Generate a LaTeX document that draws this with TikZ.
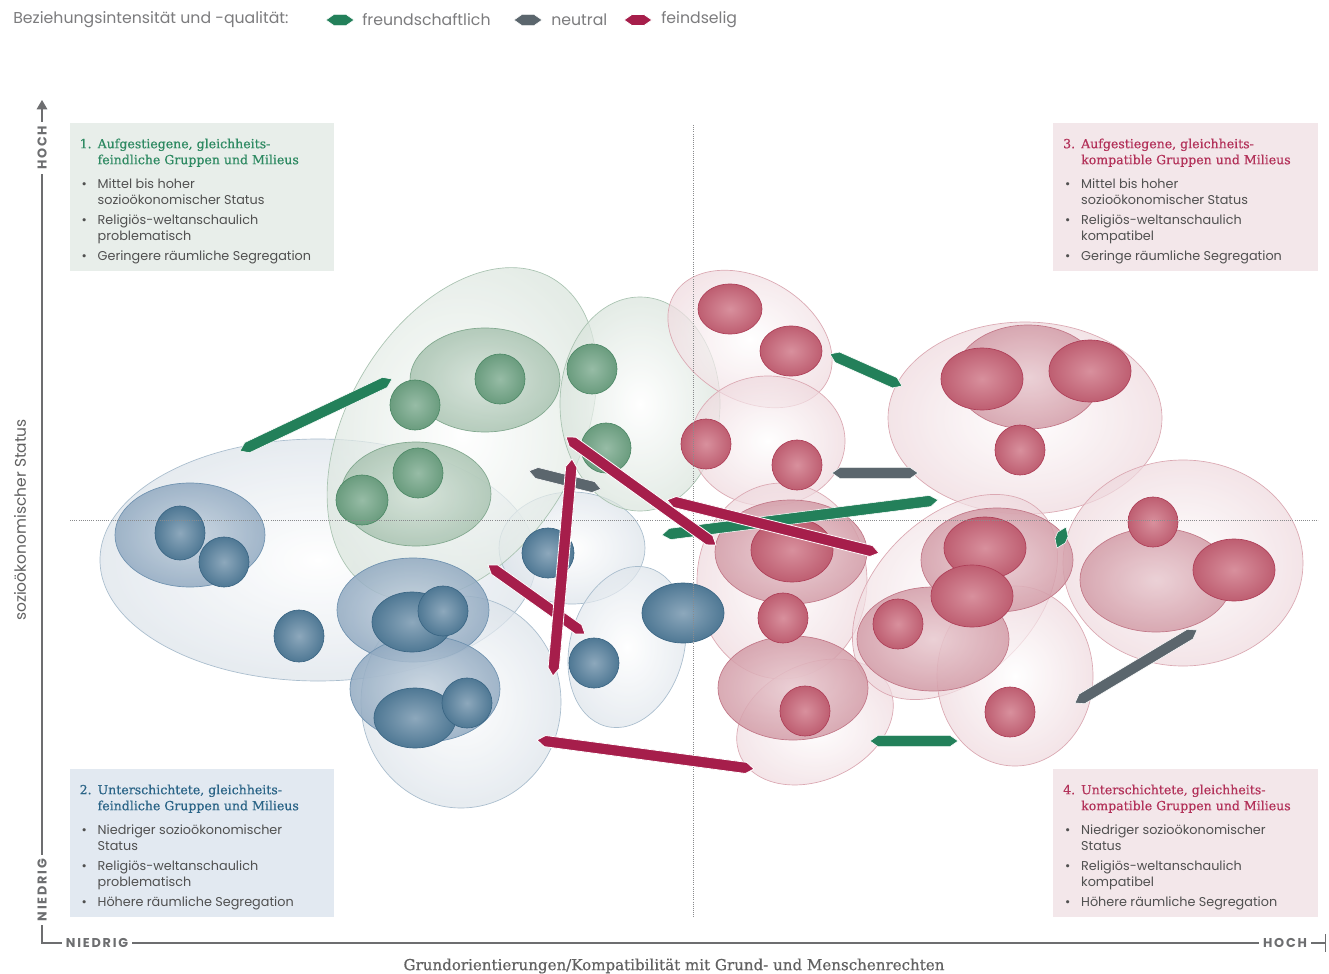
\documentclass[tikz,border=0pt]{standalone}
\usepackage{fontspec}
\setmainfont{Poppins}
\newfontfamily\slabfont[FakeBold=0.6]{DejaVu Serif}
\newfontfamily\capsfont[LetterSpace=14]{Poppins}
\usetikzlibrary{calc,arrows.meta}

\definecolor{friendly}{HTML}{23805A}
\definecolor{neutralgrey}{HTML}{5B666D}
\definecolor{hostile}{HTML}{A61E4B}
\definecolor{axisgrey}{HTML}{6D6E70}
\definecolor{textgrey}{HTML}{505050}
\definecolor{boxgreen}{HTML}{E8EEEA}
\definecolor{boxblue}{HTML}{E2E9F1}
\definecolor{boxred}{HTML}{F3E7EA}
\definecolor{titlegreen}{HTML}{2E8A62}
\definecolor{titleblue}{HTML}{2A6487}
\definecolor{titlered}{HTML}{B3325A}
% milieu colours: pale container, middle ring, dark ball
\definecolor{greenpale}{HTML}{D9E4DC}
\definecolor{greenpaleline}{HTML}{A9C3B1}
\definecolor{greenmid}{HTML}{AAC4B2}
\definecolor{greenmidin}{HTML}{D3E1D7}
\definecolor{greenmidline}{HTML}{80A78D}
\definecolor{greenball}{HTML}{6A9C7E}
\definecolor{greenballin}{HTML}{97BCA6}
\definecolor{greenballline}{HTML}{4E8967}
\definecolor{bluepale}{HTML}{DCE3EA}
\definecolor{bluepaleline}{HTML}{A9BDCD}
\definecolor{bluemid}{HTML}{92AAC1}
\definecolor{bluemidin}{HTML}{C6D3DF}
\definecolor{bluemidline}{HTML}{6E91AF}
\definecolor{blueball}{HTML}{4F7894}
\definecolor{blueballin}{HTML}{8DA8BC}
\definecolor{blueballline}{HTML}{3B6684}
\definecolor{redpale}{HTML}{EFD9DE}
\definecolor{redpaleline}{HTML}{DBA8B2}
\definecolor{redmid}{HTML}{D39DA8}
\definecolor{redmidin}{HTML}{E9CBD1}
\definecolor{redmidline}{HTML}{C27787}
\definecolor{redball}{HTML}{BE5E71}
\definecolor{redballin}{HTML}{D8909D}
\definecolor{redballline}{HTML}{AE3F58}

\tikzset{
  friendly bar/.style={fill=friendly, draw=white, line width=.4pt},
  neutral bar/.style={fill=neutralgrey, draw=white, line width=.4pt},
  hostile bar/.style={fill=hostile, draw=white, line width=.6pt},
  green pale/.style={draw=greenpaleline, line width=.5pt, inner color=white, outer color=greenpale, fill opacity=.7},
  green mid/.style={draw=greenmidline, line width=.5pt, inner color=greenmidin, outer color=greenmid, fill opacity=.85},
  green ball/.style={draw=greenballline, line width=.5pt, inner color=greenballin, outer color=greenball},
  blue pale/.style={draw=bluepaleline, line width=.5pt, inner color=white, outer color=bluepale, fill opacity=.7},
  blue mid/.style={draw=bluemidline, line width=.5pt, inner color=bluemidin, outer color=bluemid, fill opacity=.85},
  blue ball/.style={draw=blueballline, line width=.5pt, inner color=blueballin, outer color=blueball},
  red pale/.style={draw=redpaleline, line width=.5pt, inner color=white, outer color=redpale, fill opacity=.7},
  red mid/.style={draw=redmidline, line width=.5pt, inner color=redmidin, outer color=redmid, fill opacity=.85},
  red ball/.style={draw=redballline, line width=.5pt, inner color=redballin, outer color=redball},
  quadbox/.style={inner sep=0pt, minimum width=198.5pt, minimum height=111pt},
  quadtext/.style={anchor=north west, inner sep=0pt, text=textgrey, font=\fontsize{9.6}{12}\selectfont},
  quadline/.style={draw=axisgrey!80, densely dotted, line width=.6pt},
  axis/.style={draw=axisgrey, line width=.8pt, {Triangle[width=8pt,length=7pt]}-{Bar[width=13pt]}},
  axislabel/.style={fill=white, text=axisgrey, inner xsep=3pt, inner ysep=1pt, font=\capsfont\bfseries\fontsize{9.6}{11}\selectfont},
  axistitle/.style={text=textgrey!90, font=\fontsize{11.6}{13}\selectfont},
  legendtext/.style={anchor=west, inner sep=0pt, text=axisgrey!90, font=\fontsize{11.8}{13}\selectfont},
}

\newcommand{\quadtitlefont}{\slabfont\fontsize{9.4}{12}\selectfont}
\newcommand{\Milieu}[4]{
  \shadedraw [#1] (#2) ellipse [x radius=#3, y radius=#4];
}
\newcommand{\TiltedMilieu}[5]{
  \begin{scope}[shift={(#2)}, rotate=#5]
    \shadedraw [#1] (0,0) ellipse [x radius=#3, y radius=#4];
  \end{scope}
}
\newcommand{\Relation}[3]{
  \filldraw [#1] (#2) -- ($(#2)!6pt!(#3)!4.2pt!90:(#3)$) -- ($(#3)!6pt!(#2)!4.2pt!-90:(#2)$)
    -- (#3) -- ($(#3)!6pt!(#2)!4.2pt!90:(#2)$) -- ($(#2)!6pt!(#3)!4.2pt!-90:(#3)$) -- cycle;
}
\newcommand{\QuadTable}[9]{%
  \begin{tabular}{@{}l@{}l@{}}
    \makebox[13.5pt][l]{\quadtitlefont\color{#1}#2} & {\quadtitlefont\color{#1}#3}\\
    & {\quadtitlefont\color{#1}#4}\\[6pt]
    \makebox[13.5pt][l]{\hspace{1.5pt}\textbullet} & #5\\
    & #6\\[3pt]
    \makebox[13.5pt][l]{\hspace{1.5pt}\textbullet} & #7\\
    & #8\\[3pt]
    \makebox[13.5pt][l]{\hspace{1.5pt}\textbullet} & #9
  \end{tabular}%
}

\begin{document}
\begin{tikzpicture}[x=0.75pt, y=-0.75pt]

        \path [fill=white, use as bounding box] (0,0) rectangle (1329,974);

        % legend
        \node [legendtext] (legendtitle) at (13,20) {Beziehungsintensität und -qualität:};
        \coordinate (legF1) at (326,20); \coordinate (legF2) at (354,20);
        \coordinate (legN1) at (514,20); \coordinate (legN2) at (542,20);
        \coordinate (legH1) at (624,20); \coordinate (legH2) at (652,20);
        \Relation{friendly bar}{legF1}{legF2}
        \Relation{neutral bar}{legN1}{legN2}
        \Relation{hostile bar}{legH1}{legH2}
        \node [legendtext] (legF) at (362,20) {freundschaftlich};
        \node [legendtext] (legN) at (551,20) {neutral};
        \node [legendtext] (legH) at (661,20) {feindselig};

        % quadrant boxes
        \node [quadbox, fill=boxgreen] (quad1) at (202,197) {};
        \node [quadbox, fill=boxblue] (quad2) at (202,843) {};
        \node [quadbox, fill=boxred] (quad3) at (1185.5,197) {};
        \node [quadbox, fill=boxred] (quad4) at (1185.5,843) {};
        \node [quadtext] (quad1text) at ($(quad1.north west)+(10,14)$) {\QuadTable{titlegreen}{1.}{Aufgestiegene, gleichheits-}{feindliche Gruppen und Milieus}{Mittel bis hoher}{sozioökonomischer Status}{Religiös-weltanschaulich}{problematisch}{Geringere räumliche Segregation}};
        \node [quadtext] (quad2text) at ($(quad2.north west)+(10,14)$) {\QuadTable{titleblue}{2.}{Unterschichtete, gleichheits-}{feindliche Gruppen und Milieus}{Niedriger sozioökonomischer}{Status}{Religiös-weltanschaulich}{problematisch}{Höhere räumliche Segregation}};
        \node [quadtext] (quad3text) at ($(quad3.north west)+(10,14)$) {\QuadTable{titlered}{3.}{Aufgestiegene, gleichheits-}{kompatible Gruppen und Milieus}{Mittel bis hoher}{sozioökonomischer Status}{Religiös-weltanschaulich}{kompatibel}{Geringe räumliche Segregation}};
        \node [quadtext] (quad4text) at ($(quad4.north west)+(10,14)$) {\QuadTable{titlered}{4.}{Unterschichtete, gleichheits-}{kompatible Gruppen und Milieus}{Niedriger sozioökonomischer}{Status}{Religiös-weltanschaulich}{kompatibel}{Höhere räumliche Segregation}};

        % axes
        \coordinate (ytop) at (42,100);
        \coordinate (origin) at (42,943);
        \coordinate (xend) at (1326,943);
        \draw [axis] (ytop) -- (origin) -- (xend);
        \node [axislabel, rotate=90] (yhigh) at (42,148) {HOCH};
        \node [axislabel, rotate=90] (ylow) at (42,890) {NIEDRIG};
        \node [axislabel] (xlow) at (97,943) {NIEDRIG};
        \node [axislabel] (xhigh) at (1285,943) {HOCH};
        \node [axistitle, rotate=90] (ytitle) at (20,520) {sozioökonomischer Status};
        \node [axistitle, font=\slabfont\fontsize{11.3}{13}\selectfont] (xtitle) at (674,966) {Grundorientierungen/Kompatibilität mit Grund- und Menschenrechten};

        % blue milieus
        \Milieu{blue pale}{318,560}{218}{121}
        \Milieu{blue pale}{461,702}{100}{106}
        \Milieu{blue pale}{572,548}{73}{56}
        \TiltedMilieu{blue pale}{627,647}{57}{82}{-15}
        % green milieus
        \TiltedMilieu{green pale}{462,434}{180}{116}{60}
        \Milieu{green pale}{640,404}{80}{107}
        % red milieus
        \TiltedMilieu{red pale}{750,339}{88}{61}{-30}
        \Milieu{red pale}{768,441}{77}{65}
        \Milieu{red pale}{1025,418}{137}{96}
        \Milieu{red pale}{1183,563}{120}{103}
        \Milieu{red pale}{782,581}{85}{98}
        \TiltedMilieu{red pale}{815,722}{82}{58}{25}
        \TiltedMilieu{red pale}{955,597}{121}{80}{45}
        \Milieu{red pale}{1015,676}{78}{90}

        % middle rings
        \Milieu{blue mid}{190,535}{75}{52}
        \Milieu{blue mid}{413,610}{76}{52}
        \Milieu{blue mid}{425,689}{75}{53}
        \Milieu{green mid}{485,380}{75}{52}
        \Milieu{green mid}{416,494}{75}{52}
        \Milieu{red mid}{1028,377}{73}{52}
        \Milieu{red mid}{1156,580}{76}{52}
        \Milieu{red mid}{791,552}{76}{52}
        \Milieu{red mid}{793,688}{75}{52}
        \Milieu{red mid}{997,560}{76}{52}
        \Milieu{red mid}{933,639}{76}{52}

        % dark balls
        \Milieu{blue ball}{180,533}{25}{27}
        \Milieu{blue ball}{224,562}{25}{25}
        \Milieu{blue ball}{299,636}{25}{26}
        \Milieu{blue ball}{412,622}{40}{30}
        \Milieu{blue ball}{443,611}{25}{25}
        \Milieu{blue ball}{415,718}{41}{30}
        \Milieu{blue ball}{467,703}{25}{25}
        \Milieu{blue ball}{548,553}{26}{25}
        \Milieu{blue ball}{594,663}{25}{25}
        \Milieu{blue ball}{683,613}{41}{30}
        \Milieu{green ball}{500,379}{25}{25}
        \Milieu{green ball}{415,405}{25}{25}
        \Milieu{green ball}{592,369}{25}{25}
        \Milieu{green ball}{606,448}{25}{25}
        \Milieu{green ball}{418,473}{25}{25}
        \Milieu{green ball}{362,500}{26}{25}
        \Milieu{red ball}{730,309}{32}{25}
        \Milieu{red ball}{791,351}{31}{25}
        \Milieu{red ball}{706,444}{25}{25}
        \Milieu{red ball}{797,465}{25}{25}
        \Milieu{red ball}{982,379}{41}{31}
        \Milieu{red ball}{1090,371}{41}{31}
        \Milieu{red ball}{1020,450}{25}{25}
        \Milieu{red ball}{1153,522}{25}{25}
        \Milieu{red ball}{1234,570}{41}{31}
        \Milieu{red ball}{792,550}{41}{32}
        \Milieu{red ball}{783,618}{25}{25}
        \Milieu{red ball}{805,711}{25}{25}
        \Milieu{red ball}{985,548}{41}{31}
        \Milieu{red ball}{972,596}{41}{31}
        \Milieu{red ball}{898,624}{25}{25}
        \Milieu{red ball}{1010,712}{25}{25}

        % quadrant lines
        \coordinate (vtop) at (693,125); \coordinate (vbottom) at (693,917);
        \coordinate (hleft) at (70,520); \coordinate (hright) at (1318,520);
        \draw [quadline] (vtop) -- (vbottom);
        \draw [quadline] (hleft) -- (hright);

        % friendly relations
        \coordinate (fA1) at (240,451); \coordinate (fA2) at (392,379);
        \coordinate (fB1) at (830,354); \coordinate (fB2) at (902,386);
        \coordinate (fC1) at (662,535); \coordinate (fC2) at (938,500);
        \coordinate (fD1) at (1057,548); \coordinate (fD2) at (1066,527);
        \coordinate (fE1) at (870,741); \coordinate (fE2) at (958,741);
        \Relation{friendly bar}{fA1}{fA2}
        \Relation{friendly bar}{fB1}{fB2}
        \Relation{friendly bar}{fC1}{fC2}
        \Relation{friendly bar}{fD1}{fD2}
        \Relation{friendly bar}{fE1}{fE2}

        % neutral relations
        \coordinate (nA1) at (529,471); \coordinate (nA2) at (601,489);
        \coordinate (nB1) at (832,473); \coordinate (nB2) at (918,473);
        \coordinate (nC1) at (1075,703); \coordinate (nC2) at (1197,630);
        \Relation{neutral bar}{nA1}{nA2}
        \Relation{neutral bar}{nB1}{nB2}
        \Relation{neutral bar}{nC1}{nC2}

        % hostile relations
        \coordinate (hA1) at (566,437); \coordinate (hA2) at (716,545);
        \coordinate (hB1) at (667,500); \coordinate (hB2) at (879,553);
        \coordinate (hC1) at (488,565); \coordinate (hC2) at (585,634);
        \coordinate (hD1) at (572,459); \coordinate (hD2) at (553,676);
        \coordinate (hE1) at (537,740); \coordinate (hE2) at (754,769);
        \Relation{hostile bar}{hA1}{hA2}
        \Relation{hostile bar}{hB1}{hB2}
        \Relation{hostile bar}{hC1}{hC2}
        \Relation{hostile bar}{hD1}{hD2}
        \Relation{hostile bar}{hE1}{hE2}

\end{tikzpicture}
\end{document}
